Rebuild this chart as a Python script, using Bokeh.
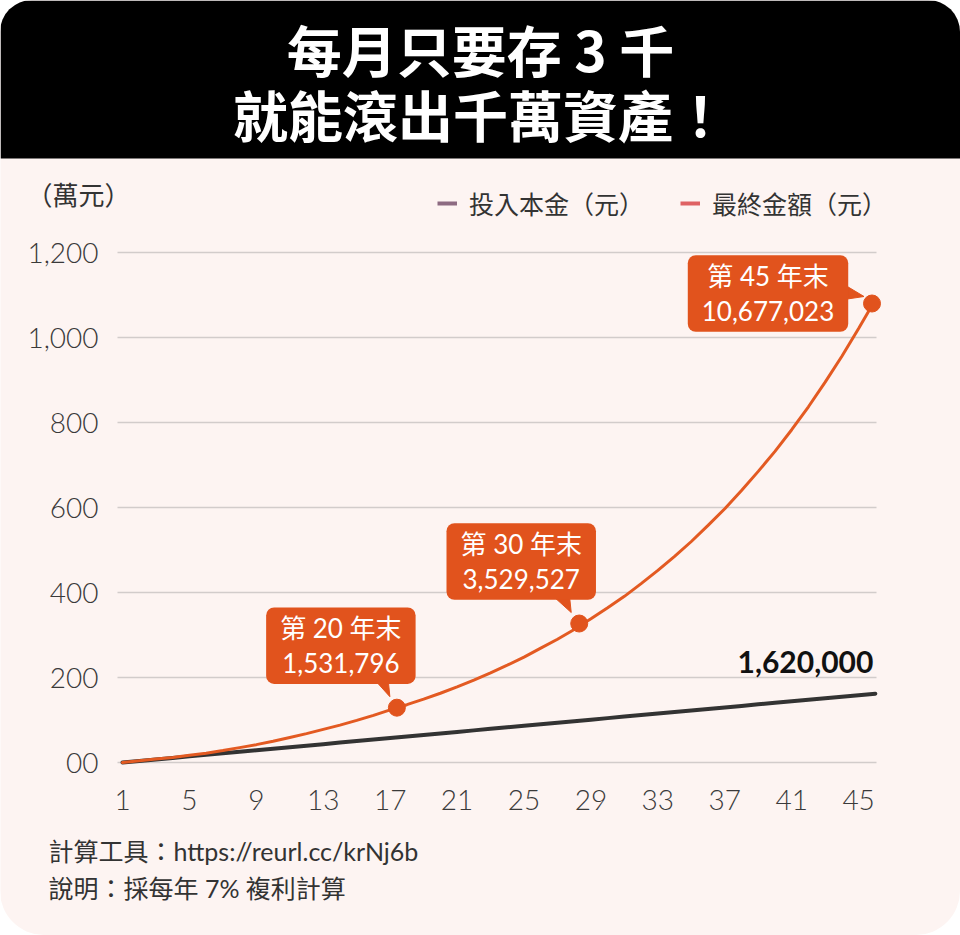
from bokeh.plotting import figure
from bokeh.models import Range1d, FixedTicker, NumeralTickFormatter, Label, Legend, LegendItem, BoxAnnotation
from bokeh.embed import file_html
from bokeh.resources import INLINE

# ---------------- data ----------------
title_lines = ["每月只要存 3 千", "就能滾出千萬資產！"]
unit_label = "（萬元）"
legend_labels = ["投入本金（元）", "最終金額（元）"]
footer_lines = ["計算工具：https://reurl.cc/krNj6b", "說明：採每年 7% 複利計算"]

x_pos = list(range(1, 47))
principal = [0, 3.6, 7.2, 10.8, 14.4, 18, 21.6, 25.2, 28.8, 32.4, 36, 39.6, 43.2, 46.8,
             50.4, 54, 57.6, 61.2, 64.8, 68.4, 72, 75.6, 79.2, 82.8, 86.4, 90, 93.6, 97.2,
             100.8, 104.4, 108, 111.6, 115.2, 118.8, 122.4, 126, 129.6, 133.2, 136.8, 140.4,
             144, 147.6, 151.2, 154.8, 158.4, 162]
final = [0, 4, 8, 12, 17, 22, 28, 35, 42, 50, 59, 68, 78, 88, 99, 111, 124, 136, 149,
         163, 178, 194, 211, 229, 248, 269, 290, 313, 338, 364, 391, 421, 452, 485, 520,
         558, 597, 640, 685, 732, 783, 837, 895, 956, 1021, 1089]

marker_pos = [17.4, 28.3, 45.8]
marker_val = [129, 327, 1080]
marker_year = ["第 20 年末", "第 30 年末", "第 45 年末"]
marker_amount = ["1,531,796", "3,529,527", "10,677,023"]
principal_total = "1,620,000"

y_ticks = [0, 200, 400, 600, 800, 1000, 1200]
x_ticks = [1, 5, 9, 13, 17, 21, 25, 29, 33, 37, 41, 45]

# ---------------- layout / style ----------------
W, H = 960, 935
BG = "#fdf4f2"
ORANGE = "#e1531d"
LINE_ORANGE = "#e35a22"
DARK = "#333333"
LIGHT_FONT = "'Lato Light', Lato"
NUM_FONT = "Lato, 'Noto Sans CJK TC'"
CJK_FONT = "'Noto Sans CJK TC'"

# pixel geometry of the plotting scale (frame covers the whole canvas)
PX_X = 16.73          # pixels per year step
PX_Y = 0.425          # pixels per 萬元
ORIGIN_PX = (122, 762)  # page position of (x=1, y=0)


def dx(px):
    return x_pos[0] + (px - ORIGIN_PX[0]) / PX_X


def dy(py):
    return (ORIGIN_PX[1] - py) / PX_Y


X0, X1 = dx(0), dx(W)
Y0, Y1 = dy(H), dy(0)
GRID_X0, GRID_X1 = dx(117), dx(876)

p = figure(width=W, height=H, x_range=Range1d(X0, X1), y_range=Range1d(Y0, Y1),
           output_backend="svg", toolbar_location=None,
           min_border=0, min_border_left=0, min_border_right=0,
           min_border_top=0, min_border_bottom=0,
           styles={"border-radius": "32px 32px 44px 44px", "overflow": "hidden"})
p.background_fill_color = BG
p.border_fill_color = BG
p.outline_line_color = None
p.grid.visible = False

for ax in (p.xaxis, p.yaxis):
    ax.axis_line_color = None
    ax.major_tick_line_color = None
    ax.minor_tick_line_color = None
    ax.major_label_text_font = LIGHT_FONT
    ax.major_label_text_font_size = "28px"
    ax.major_label_text_color = "#3a3a3a"

p.xaxis.ticker = FixedTicker(ticks=x_ticks)
p.xaxis.fixed_location = y_ticks[0]
p.xaxis.major_label_standoff = 21
p.yaxis.ticker = FixedTicker(ticks=y_ticks)
p.yaxis.fixed_location = GRID_X0
p.yaxis.formatter = NumeralTickFormatter(format="0,0")
p.yaxis.major_label_overrides = {0: "00"}
p.yaxis.major_label_standoff = 13

# banner
p.add_layout(BoxAnnotation(bottom=dy(158), fill_color="#000000", fill_alpha=1.0, line_color=None))
for i, line in enumerate(title_lines):
    p.add_layout(Label(x=dx(480), y=dy(47 + 65 * i), text=line, text_align="center",
                       text_baseline="middle", text_color="white", text_font=CJK_FONT,
                       text_font_style="bold", text_font_size="55px"))

# horizontal grid lines at the y ticks
p.segment(x0=[GRID_X0] * len(y_ticks), x1=[GRID_X1] * len(y_ticks), y0=y_ticks, y1=y_ticks,
          line_color="#d2cccb", line_width=1.5)

# lines
p.line(x_pos, principal, color=DARK, line_width=4, line_cap="round")
p.line(x_pos, final, color=LINE_ORANGE, line_width=3, line_cap="round")

# callout pointers (pixel offsets from each marker)
pointer_px = [
    [(-25, 31), (-9, 31), (-7, 11)],
    [(-29, 30), (-10, 30), (-8, 11)],
    [(-28, 19), (-28, 4), (-8, 7)],
]
xs, ys = [], []
for (mx, my), tri in zip(zip(marker_pos, marker_val), pointer_px):
    xs.append([mx + ox / PX_X for ox, oy in tri])
    ys.append([my + oy / PX_Y for ox, oy in tri])
p.patches(xs, ys, color=ORANGE, line_color=ORANGE)

p.scatter(marker_pos, marker_val, size=17, color=ORANGE)

box_offsets = [(-56, 62), (-58, 62), (-104, 10)]
for mx, my, yr, amt, (ox, oy) in zip(marker_pos, marker_val, marker_year, marker_amount, box_offsets):
    p.add_layout(Label(x=mx, y=my, x_offset=ox, y_offset=oy, text=yr + "\n" + amt,
                       text_align="center", text_baseline="middle",
                       text_color="white", text_font=NUM_FONT, text_font_size="26px",
                       text_line_height=1.08,
                       background_fill_color=ORANGE, border_radius=8, padding=(14, 5)))

p.add_layout(Label(x=x_pos[-1], y=principal[-1], x_offset=-2, y_offset=32, text=principal_total,
                   text_align="right", text_baseline="middle", text_font=NUM_FONT,
                   text_font_style="bold", text_font_size="30px", text_color="#111111"))

# unit label and footer
p.add_layout(Label(x=dx(26), y=dy(193), text=unit_label, text_baseline="middle",
                   text_font=CJK_FONT, text_font_size="26px", text_color="#333333"))
for i, line in enumerate(footer_lines):
    p.add_layout(Label(x=dx(48), y=dy(850 + 37 * i), text=line, text_baseline="middle",
                       text_font=NUM_FONT, text_font_size="25px", text_color="#333333"))

# legend with its own swatch colours (one invisible point each)
r1 = p.line([x_pos[0]], [float("nan")], color="#8d6b82", line_width=4)
r2 = p.line([x_pos[0]], [float("nan")], color="#df6264", line_width=4)
legend = Legend(items=[LegendItem(label=legend_labels[0], renderers=[r1]),
                       LegendItem(label=legend_labels[1], renderers=[r2])],
                location=(437, H - 221), orientation="horizontal",
                background_fill_alpha=0, border_line_color=None, padding=0, margin=0,
                spacing=36, glyph_width=20, label_standoff=12,
                label_text_font_size="25px", label_text_color="#333333",
                label_text_font=CJK_FONT)
p.add_layout(legend)

open("out.html", "w").write(file_html(p, INLINE))
